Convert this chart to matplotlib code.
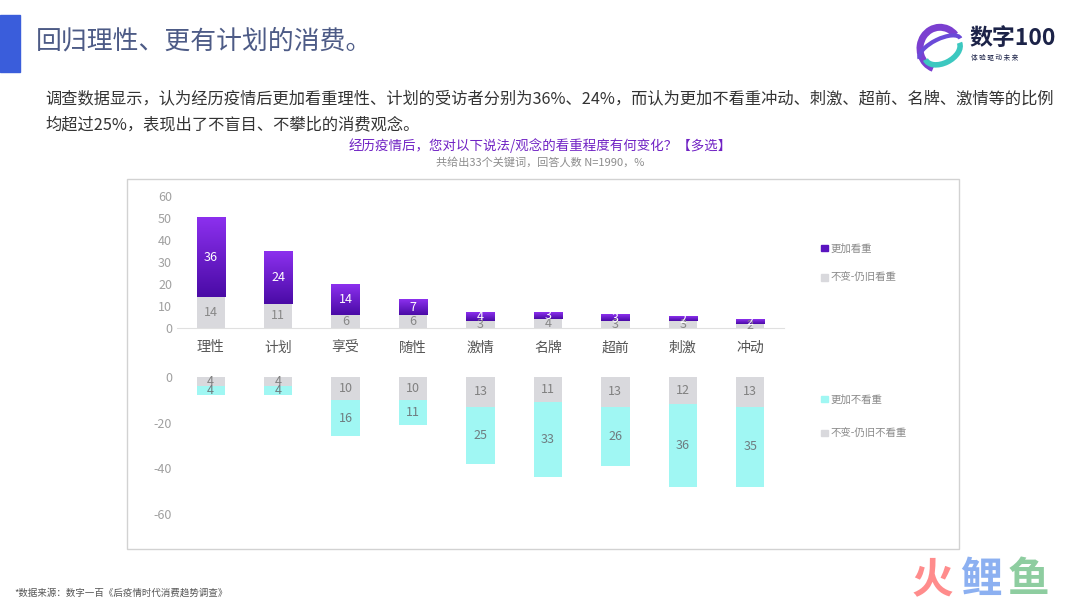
import numpy as np
import matplotlib
matplotlib.use('Agg')
import matplotlib.pyplot as plt
from matplotlib.patches import Rectangle, Patch, Arc
from matplotlib.colors import LinearSegmentedColormap

plt.rcParams['font.family'] = ['Noto Sans CJK SC', 'DejaVu Sans']
plt.rcParams['axes.unicode_minus'] = False

# data (%)
categories = ['理性', '计划', '享受', '随性', '激情', '名牌', '超前', '刺激', '冲动']
more_valued = [36, 24, 14, 7, 4, 3, 3, 2, 2]        # 更加看重
still_valued = [14, 11, 6, 6, 3, 4, 3, 3, 2]        # 不变-仍旧看重
still_not_valued = [4, 4, 10, 10, 13, 11, 13, 12, 13]  # 不变-仍旧不看重
more_not_valued = [4, 4, 16, 11, 25, 33, 26, 36, 35]   # 更加不看重
top_ticks = [0, 10, 20, 30, 40, 50, 60]
bottom_ticks = [0, -20, -40, -60]

GRAY = '#d9d9dd'
CYAN = '#a0f7f3'
TICK = '#a0a0a0'
purple_cmap = LinearSegmentedColormap.from_list('purp', ['#4a0ba6', '#8c30ee'])

W, H = 1080, 602
fig = plt.figure(figsize=(W / 100, H / 100), dpi=100)
fig.patch.set_facecolor('white')

def fx(px):
    return px / W

def fy(py):
    return 1 - py / H

# header
fig.patches.append(Rectangle((0, fy(72)), fx(20), fy(15) - fy(72), transform=fig.transFigure,
                             color='#3a5ddb', zorder=1))
fig.text(fx(36), fy(41), '回归理性、更有计划的消费。', fontsize=18.6, color='#4d5b86', va='center')
fig.text(fx(45), fy(99), '调查数据显示，认为经历疫情后更加看重理性、计划的受访者分别为36%、24%，而认为更加不看重冲动、刺激、超前、名牌、激情等的比例',
         fontsize=11.7, color='#333333', va='center')
fig.text(fx(45), fy(125), '均超过25%，表现出了不盲目、不攀比的消费观念。', fontsize=11.7, color='#333333', va='center')

# logo
logo_ax = fig.add_axes([fx(915), fy(75), fx(50), fy(22) - fy(75)])
logo_ax.set_xlim(-1, 1)
logo_ax.set_ylim(-1, 1)
logo_ax.axis('off')
logo_ax.add_patch(Arc((0, 0), 1.6, 1.6, theta1=40, theta2=250, lw=5, color='#7b3fd0'))
logo_ax.add_patch(Arc((0.1, -0.1), 1.5, 0.9, angle=25, theta1=180, theta2=360, lw=4, color='#3cc8c0'))
logo_ax.add_patch(Arc((0.0, 0.0), 1.8, 0.7, angle=25, theta1=0, theta2=180, lw=3, color='#6a4ad8'))
fig.text(fx(969), fy(38), '数字100', fontsize=16.5, fontweight='bold', color='#1c2348', va='center')
fig.text(fx(971), fy(58), '体 验 驱 动 未 来', fontsize=4.8, color='#1c2348', va='center')

# chart titles
fig.text(0.5, fy(146), '经历疫情后，您对以下说法/观念的看重程度有何变化？【多选】', fontsize=9.7,
         color='#7022c4', ha='center', va='center')
fig.text(0.5, fy(162), '共给出33个关键词，回答人数 N=1990，%', fontsize=8, color='#8c8c8c',
         ha='center', va='center')

# chart frame
fig.patches.append(Rectangle((fx(127), fy(549)), fx(959) - fx(127), fy(179) - fy(549),
                             transform=fig.transFigure, fill=False, ec='#d2d2d2', lw=1))

x = np.arange(len(categories))
bw = 0.42
left, right = fx(177), fx(784)

# top: 看重
ax1 = fig.add_axes([left, fy(328), right - left, fy(196) - fy(328)])
ax1.bar(x, still_valued, bw, color=GRAY, zorder=2)
tops = ax1.bar(x, more_valued, bw, bottom=still_valued, color='#6a1dd0', zorder=2)
grad = np.linspace(0, 1, 100).reshape(-1, 1)
for r in tops:
    ax1.imshow(grad, extent=[r.get_x(), r.get_x() + r.get_width(), r.get_y(), r.get_y() + r.get_height()],
               origin='lower', cmap=purple_cmap, aspect='auto', zorder=3)
for i in x:
    ax1.text(i, still_valued[i] / 2, str(still_valued[i]), ha='center', va='center',
             fontsize=9, color='#888888', zorder=4)
    ax1.text(i, still_valued[i] + more_valued[i] / 2, str(more_valued[i]), ha='center', va='center',
             fontsize=9, color='white', zorder=4)
ax1.set_xlim(-0.5, len(categories) - 0.5)
ax1.set_ylim(0, 60)
ax1.set_yticks(top_ticks)
ax1.set_xticks(x, categories)
ax1.tick_params(length=0, labelsize=9, colors=TICK)
ax1.tick_params(axis='x', labelsize=10, colors='#555555', pad=9)
for s in ['top', 'right', 'left']:
    ax1.spines[s].set_visible(False)
ax1.spines['bottom'].set_color('#e0e0e0')
ax1.patch.set_alpha(0)

# bottom: 不看重
ax2 = fig.add_axes([left, fy(514), right - left, fy(377) - fy(514)])
ax2.bar(x, [-v for v in still_not_valued], bw, color=GRAY, zorder=2)
ax2.bar(x, [-v for v in more_not_valued], bw, bottom=[-v for v in still_not_valued], color=CYAN, zorder=2)
for i in x:
    ax2.text(i, -still_not_valued[i] / 2, str(still_not_valued[i]), ha='center', va='center',
             fontsize=9, color='#808080', zorder=4)
    ax2.text(i, -still_not_valued[i] - more_not_valued[i] / 2, str(more_not_valued[i]), ha='center',
             va='center', fontsize=9, color='#6f7c80', zorder=4)
ax2.set_xlim(-0.5, len(categories) - 0.5)
ax2.set_ylim(-60, 0)
ax2.set_yticks(bottom_ticks)
ax2.set_xticks([])
ax2.tick_params(length=0, labelsize=9, colors=TICK)
for s in ax2.spines.values():
    s.set_visible(False)
ax2.patch.set_alpha(0)

# legends
leg1 = fig.legend(handles=[Patch(color='#5a14c0', label='更加看重'), Patch(color=GRAY, label='不变-仍旧看重')],
                  loc='upper left', bbox_to_anchor=(fx(812), fy(234)), frameon=False, fontsize=7.5,
                  handlelength=0.6, handleheight=0.6, handletextpad=0.3, labelspacing=1.9)
for t in leg1.get_texts():
    t.set_color('#8a8a8a')
leg2 = fig.legend(handles=[Patch(color=CYAN, label='更加不看重'), Patch(color=GRAY, label='不变-仍旧不看重')],
                  loc='upper left', bbox_to_anchor=(fx(812), fy(385)), frameon=False, fontsize=7.5,
                  handlelength=0.6, handleheight=0.6, handletextpad=0.3, labelspacing=2.3)
for t in leg2.get_texts():
    t.set_color('#8a8a8a')

# footer and watermark
fig.text(fx(14), fy(593), '*数据来源：数字一百《后疫情时代消费趋势调查》', fontsize=6.8, color='#555555', va='center')
for ch, col, px in [('火', '#ff8080', 912), ('鲤', '#80a8f0', 960), ('鱼', '#82c896', 1008)]:
    fig.text(fx(px), fy(580), ch, fontsize=30, fontweight='bold', color=col, va='center', alpha=0.9)

fig.savefig('out.png', dpi=100, facecolor='white')
